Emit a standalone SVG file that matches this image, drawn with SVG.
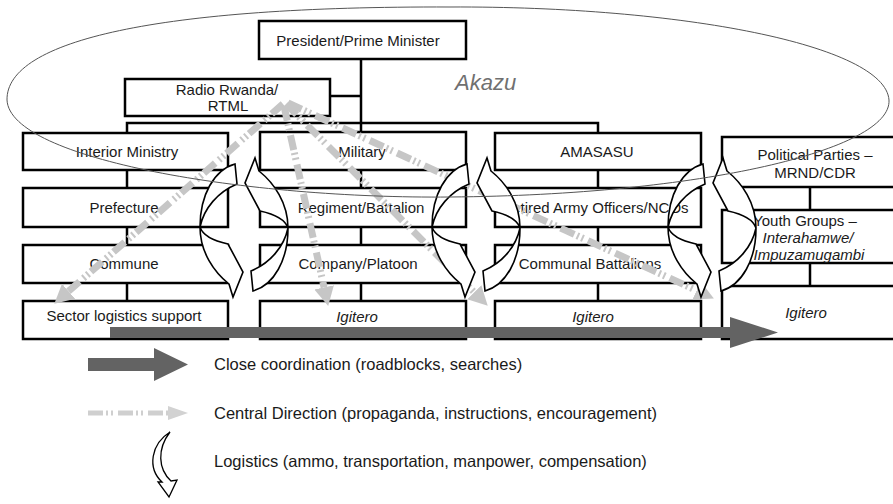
<svg xmlns="http://www.w3.org/2000/svg" width="893" height="504" viewBox="0 0 893 504">
<defs>
<style>
.box{fill:#fff;stroke:#000;stroke-width:2.5}
.t{font-family:"Liberation Sans",Arial,sans-serif;font-size:15px;fill:#1a1a1a;text-anchor:middle}
.i{font-style:italic}
.con{stroke:#000;stroke-width:2.5;fill:none}
.cd{fill:none;stroke:#c6c6c6;stroke-width:7;stroke-dasharray:15 3 2 3 2 5}
.curv{fill:#fff;stroke:#000;stroke-width:1.6;stroke-linejoin:miter}
.lg{font-family:"Liberation Sans",Arial,sans-serif;font-size:16.5px;fill:#1a1a1a}
</style>
<marker id="gh" markerUnits="userSpaceOnUse" markerWidth="24" markerHeight="24" viewBox="0 -12 24 24" refX="0" refY="0" orient="auto"><path d="M0,-10 L19,0 L0,10 Z" fill="#c6c6c6"/></marker>
<path id="cl" d="M235,164 C214,170 200,195 200,227 C200,252 214,272 229,284 L233,297 L243,272 L228,244 C214,241 203,236 200,227 C204,208 218,192 237,184 Z"/>
</defs>

<g id="n-president"><rect class="box" x="259" y="21" width="207" height="38"/><text class="t" x="358" y="46">President/Prime Minister</text></g>
<g id="n-radio"><rect class="box" x="125" y="79" width="205" height="37"/><text class="t" x="227" y="95">Radio Rwanda/</text><text class="t" x="228" y="111">RTML</text></g>

<g id="n-interior"><rect class="box" x="23" y="133" width="205" height="37"/><text class="t" x="127" y="157">Interior Ministry</text></g>
<g id="n-prefecture"><rect class="box" x="23" y="188" width="205" height="39"/><text class="t" x="124" y="213">Prefecture</text></g>
<g id="n-commune"><rect class="box" x="23" y="245" width="205" height="38"/><text class="t" x="124" y="269">Commune</text></g>
<g id="n-sector"><rect class="box" x="23" y="301" width="205" height="38"/><text class="t" x="124" y="321">Sector logistics support</text></g>

<g id="n-military"><rect class="box" x="260" y="132" width="206" height="38"/><text class="t" x="362" y="157">Military</text></g>
<g id="n-regiment"><rect class="box" x="260" y="188" width="206" height="39"/><text class="t" x="361" y="213">Regiment/Battalion</text></g>
<g id="n-company"><rect class="box" x="260" y="245" width="206" height="38"/><text class="t" x="358" y="269">Company/Platoon</text></g>
<g id="n-igitero2"><rect class="box" x="260" y="301" width="206" height="38"/><text class="t i" x="357" y="322">Igitero</text></g>

<g id="n-amasasu"><rect class="box" x="495" y="133" width="206" height="37"/><text class="t" x="597" y="157">AMASASU</text></g>
<g id="n-retired"><rect class="box" x="495" y="188" width="206" height="39"/><text class="t" x="595" y="213">Retired Army Officers/NCOs</text></g>
<g id="n-communal"><rect class="box" x="495" y="245" width="206" height="38"/><text class="t" x="590" y="269">Communal Battalions</text></g>
<g id="n-igitero3"><rect class="box" x="495" y="301" width="206" height="38"/><text class="t i" x="593" y="322">Igitero</text></g>

<g id="n-parties"><rect class="box" x="722" y="137" width="180" height="50"/><text class="t" x="815" y="160">Political Parties –</text><text class="t" x="815" y="178">MRND/CDR</text></g>
<g id="n-youth"><rect class="box" x="722" y="210" width="180" height="53"/><text class="t" x="805" y="226">Youth Groups –</text><text class="t i" x="808" y="243">Interahamwe/</text><text class="t i" x="809" y="260">Impuzamugambi</text></g>
<g id="n-igitero4"><rect class="box" x="722" y="286" width="180" height="53"/><text class="t i" x="806" y="318">Igitero</text></g>

<g id="connectors">
<path class="con" d="M361,59 V132 M330,96 H361 M127,133 V123 H598 V133"/>
<path class="con" d="M127,170 V188 M127,227 V245 M127,283 V301"/>
<path class="con" d="M361,170 V188 M361,227 V245 M361,283 V301"/>
<path class="con" d="M598,170 V188 M598,227 V245 M598,283 V301"/>
<path class="con" d="M810,187 V210 M810,263 V286"/>
<g id="central-direction">
<line class="cd" x1="283" y1="104" x2="68.6" y2="291.2" marker-end="url(#gh)"/>
<line class="cd" x1="284" y1="106" x2="324.1" y2="287.4" marker-end="url(#gh)"/>
<line class="cd" x1="286" y1="104" x2="474.3" y2="292.3" marker-end="url(#gh)"/>
<line class="cd" x1="288" y1="103" x2="696.6" y2="290.5" marker-end="url(#gh)"/>
</g>
<g id="logistics" class="curv">
<use href="#cl"/>
<use href="#cl" transform="rotate(180 244 227.5)"/>
<g transform="translate(232,0)"><use href="#cl"/><use href="#cl" transform="rotate(180 244 227.5)"/></g>
<g transform="translate(468,0)"><use href="#cl"/><use href="#cl" transform="rotate(180 244 227.5)"/></g>
</g>
<path id="coordination" d="M110,327 H730 V317 L778,332.5 L730,348 V338 H110 Z" fill="#636363"/>
</g>

<g id="akazu">
<path d="M7,100 C6,40 160,6 450,7 C680,6 885,45 889,100 C892,150 700,195 450,197 C250,199 10,160 7,100 Z" fill="none" stroke="#555" stroke-width="1"/>
<text x="455" y="90" font-family="Liberation Sans, Arial, sans-serif" font-size="22" font-style="italic" fill="#707070">Akazu</text>
</g>

<g id="legend">
<path d="M88,358 H154 V348 L188,364.5 L154,381 V371 H88 Z" fill="#636363"/>
<text class="lg" x="214" y="370">Close coordination (roadblocks, searches)</text>
<line x1="88" y1="413" x2="168" y2="413" stroke="#cfcfcf" stroke-width="5" stroke-dasharray="15 3 2 3 2 5"/>
<path d="M168,406 L188,413 L168,420 Z" fill="#d2d2d2"/>
<text class="lg" x="214" y="419">Central Direction (propaganda, instructions, encouragement)</text>
<path class="curv" style="stroke-width:1.3" d="M170,432 C151,444 147,468 162,482 L158,482 L169,497 L177,480 L171,481 C158,469 157,449 170,432 Z"/>
<text class="lg" x="214" y="467">Logistics (ammo, transportation, manpower, compensation)</text>
</g>
</svg>
